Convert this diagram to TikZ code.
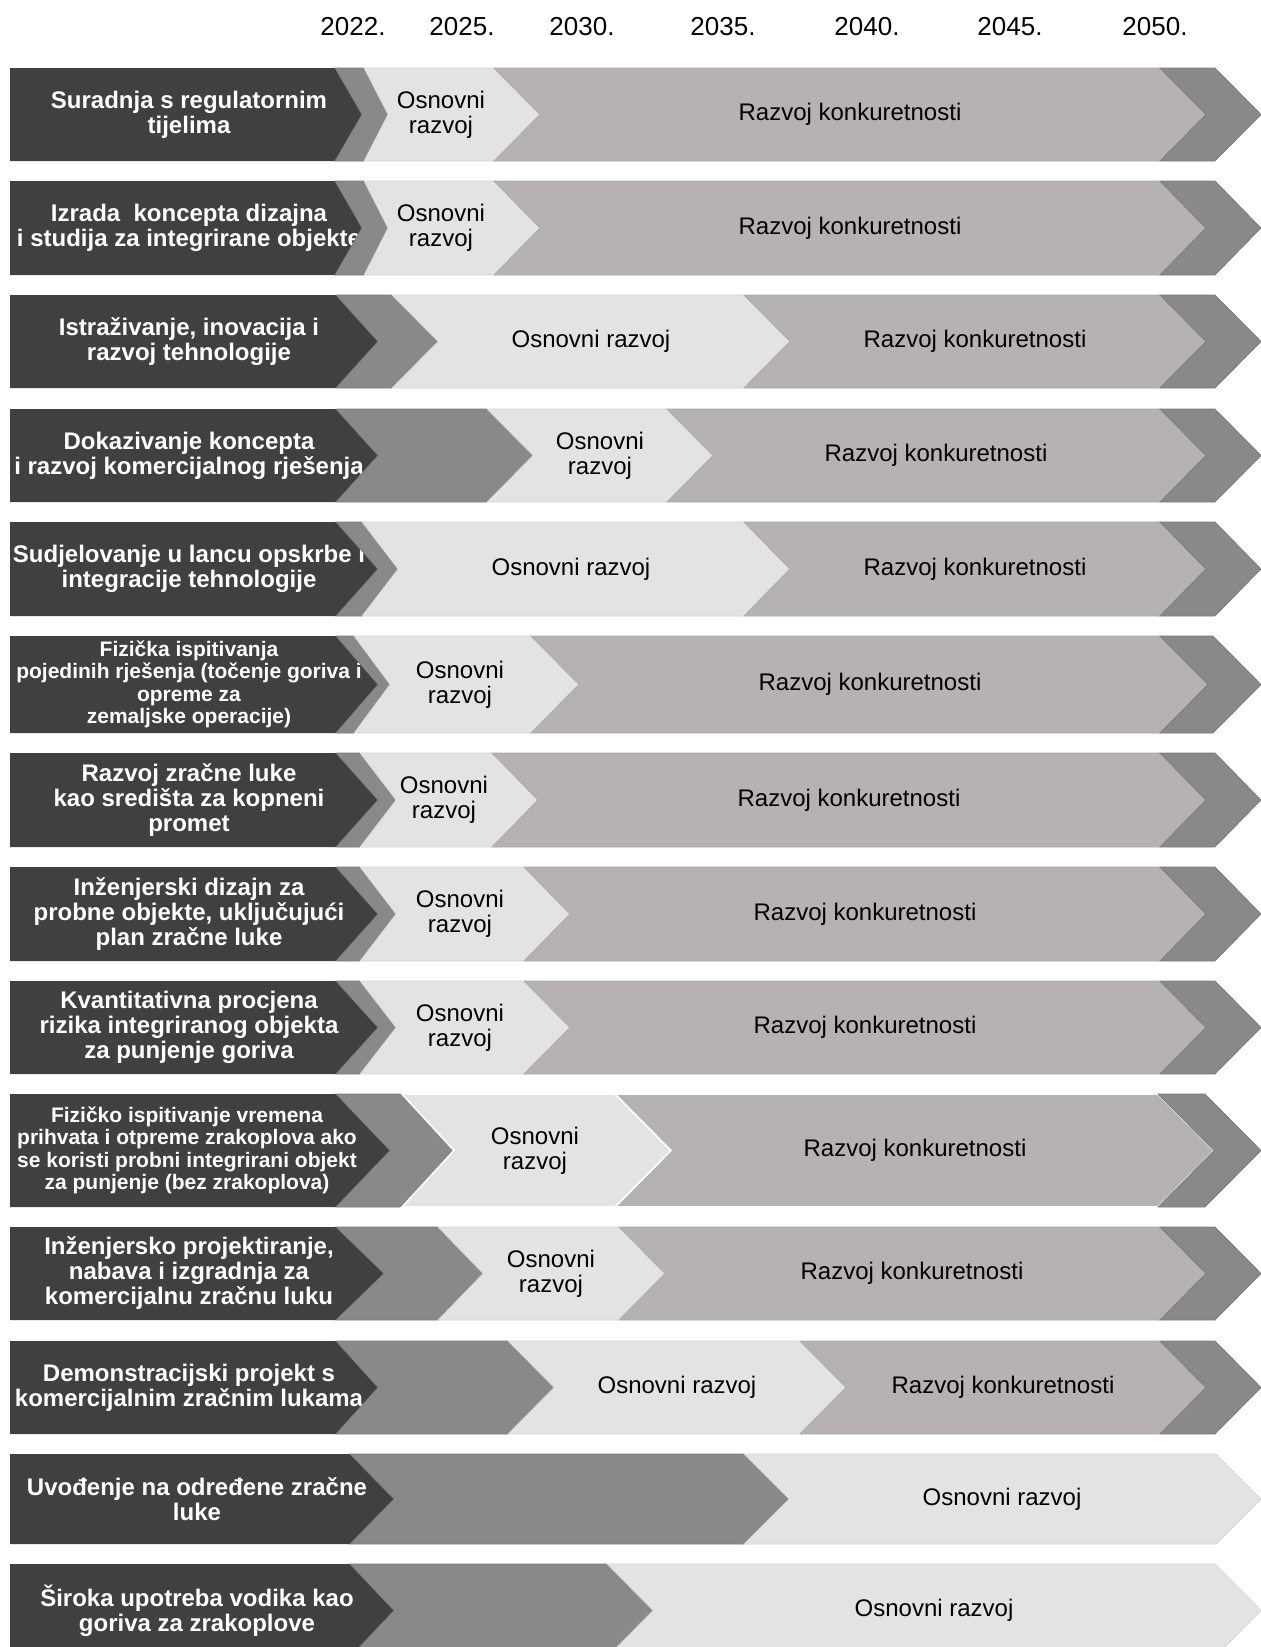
\documentclass[tikz,border=0pt]{standalone}
\usepackage{fontspec}
\setmainfont{Liberation Sans}
\definecolor{lblgray}{HTML}{404040}
\definecolor{medgray}{HTML}{898989}
\definecolor{osngray}{HTML}{E3E3E3}
\definecolor{razgray}{HTML}{B5B2B1}
\newcommand{\rowy}[2]{\def\yt{#1}\def\yb{#2}\pgfmathsetmacro{\ym}{(#1+#2)/2}}
\newcommand{\lab}[2]{\fill[lblgray] (10,\yt) -- (#1,\yt) -- ({#1+#2},\ym) -- (#1,\yb) -- (10,\yb) -- cycle;}
\newcommand{\seg}[5]{\filldraw[#1] (#2,\yt) -- (#3,\yt) -- ({#3+#5},\ym) -- (#3,\yb) -- (#2,\yb) -- ({#2+#4},\ym) -- cycle;}
\begin{document}
\begin{tikzpicture}[x=0.75pt,y=-0.75pt,
    medseg/.style={fill=medgray,draw=medgray!88!black,line width=0.5pt},
    osnseg/.style={fill=osngray,draw=osngray!94!black,line width=0.5pt},
    razseg/.style={fill=razgray,draw=razgray!94!black,line width=0.5pt},
    finseg/.style={fill=medgray,draw=medgray!88!black,line width=0.5pt},
    wline/.style={draw=white,line width=1.2pt},
    lbltxt/.style={text=white,font=\bfseries\fontsize{18}{18.75}\selectfont,align=center},
    smalltxt/.style={text=white,font=\bfseries\fontsize{15.75}{16.8}\selectfont,align=center},
    segtxt/.style={font=\fontsize{18}{18.75}\selectfont,align=center},
    yeartxt/.style={font=\fontsize{19.5}{20}\selectfont}]
  \clip (0,0) rectangle (1261,1647);
  \node (y2022) at (353,27) [yeartxt] {2022.};
  \node (y2025) at (462,27) [yeartxt] {2025.};
  \node (y2030) at (582,27) [yeartxt] {2030.};
  \node (y2035) at (723,27) [yeartxt] {2035.};
  \node (y2040) at (867,27) [yeartxt] {2040.};
  \node (y2045) at (1010,27) [yeartxt] {2045.};
  \node (y2050) at (1155,27) [yeartxt] {2050.};

  \rowy{68}{161}
  \lab{335}{27}
  \node (l1) at (189,\ym) [lbltxt] {Suradnja s regulatornim\\tijelima};
  \seg{medseg}{335}{364}{27}{24}
  \seg{osnseg}{364}{494}{24}{46}
  \seg{razseg}{494}{1160}{46}{46}
  \seg{finseg}{1160}{1215}{46}{46}
  \node (o1) at (441,\ym) [segtxt] {Osnovni\\razvoj};
  \node (r1) at (850,\ym) [segtxt] {Razvoj konkuretnosti};

  \rowy{181}{275}
  \lab{335}{27}
  \node (l2) at (189,\ym) [lbltxt] {Izrada\ \ koncepta dizajna\\i studija za integrirane objekte};
  \seg{medseg}{335}{364}{27}{24}
  \seg{osnseg}{364}{494}{24}{46}
  \seg{razseg}{494}{1160}{46}{46}
  \seg{finseg}{1160}{1215}{46}{46}
  \node (o2) at (441,\ym) [segtxt] {Osnovni\\razvoj};
  \node (r2) at (850,\ym) [segtxt] {Razvoj konkuretnosti};

  \rowy{295}{388}
  \lab{336}{42}
  \node (l3) at (189,\ym) [lbltxt] {Istraživanje, inovacija i\\razvoj tehnologije};
  \seg{medseg}{336}{392}{42}{46}
  \seg{osnseg}{392}{744}{46}{46}
  \seg{razseg}{744}{1160}{46}{46}
  \seg{finseg}{1160}{1215}{46}{46}
  \node (o3) at (591,\ym) [segtxt] {Osnovni razvoj};
  \node (r3) at (975,\ym) [segtxt] {Razvoj konkuretnosti};

  \rowy{409}{502}
  \lab{336}{42}
  \node (l4) at (189,\ym) [lbltxt] {Dokazivanje koncepta\\i razvoj komercijalnog rješenja};
  \seg{medseg}{336}{487}{42}{46}
  \seg{osnseg}{487}{667}{46}{46}
  \seg{razseg}{667}{1160}{46}{46}
  \seg{finseg}{1160}{1215}{46}{46}
  \node (o4) at (600,\ym) [segtxt] {Osnovni\\razvoj};
  \node (r4) at (936,\ym) [segtxt] {Razvoj konkuretnosti};

  \rowy{522}{616}
  \lab{336}{42}
  \node (l5) at (189,\ym) [lbltxt] {Sudjelovanje u lancu opskrbe i\\integracije tehnologije};
  \seg{medseg}{336}{362}{42}{36}
  \seg{osnseg}{362}{744}{36}{46}
  \seg{razseg}{744}{1160}{46}{46}
  \seg{finseg}{1160}{1215}{46}{46}
  \node (o5) at (571,\ym) [segtxt] {Osnovni razvoj};
  \node (r5) at (975,\ym) [segtxt] {Razvoj konkuretnosti};

  \rowy{636}{733}
  \lab{336}{42}
  \node (l6) at (189,\ym) [smalltxt] {Fizička ispitivanja\\pojedinih rješenja (točenje goriva i\\opreme za\\zemaljske operacije)};
  \seg{medseg}{336}{354}{42}{36}
  \seg{osnseg}{354}{531}{36}{48}
  \seg{razseg}{531}{1160}{48}{48}
  \seg{finseg}{1160}{1213}{48}{48}
  \node (o6) at (460,\ym) [segtxt] {Osnovni\\razvoj};
  \node (r6) at (870,\ym) [segtxt] {Razvoj konkuretnosti};

  \rowy{753}{847}
  \lab{336}{42}
  \node (l7) at (189,\ym) [lbltxt] {Razvoj zračne luke\\kao središta za kopneni\\promet};
  \seg{medseg}{336}{360}{42}{36}
  \seg{osnseg}{360}{492}{36}{46}
  \seg{razseg}{492}{1160}{46}{46}
  \seg{finseg}{1160}{1215}{46}{46}
  \node (o7) at (444,\ym) [segtxt] {Osnovni\\razvoj};
  \node (r7) at (849,\ym) [segtxt] {Razvoj konkuretnosti};

  \rowy{867}{961}
  \lab{336}{42}
  \node (l8) at (189,\ym) [lbltxt] {Inženjerski dizajn za\\probne objekte, uključujući\\plan zračne luke};
  \seg{medseg}{336}{360}{42}{36}
  \seg{osnseg}{360}{524}{36}{46}
  \seg{razseg}{524}{1160}{46}{46}
  \seg{finseg}{1160}{1215}{46}{46}
  \node (o8) at (460,\ym) [segtxt] {Osnovni\\razvoj};
  \node (r8) at (865,\ym) [segtxt] {Razvoj konkuretnosti};

  \rowy{981}{1074}
  \lab{336}{42}
  \node (l9) at (189,\ym) [lbltxt] {Kvantitativna procjena\\rizika integriranog objekta\\za punjenje goriva};
  \seg{medseg}{336}{360}{42}{36}
  \seg{osnseg}{360}{524}{36}{46}
  \seg{razseg}{524}{1160}{46}{46}
  \seg{finseg}{1160}{1215}{46}{46}
  \node (o9) at (460,\ym) [segtxt] {Osnovni\\razvoj};
  \node (r9) at (865,\ym) [segtxt] {Razvoj konkuretnosti};

  \rowy{1094}{1207}
  \lab{336}{54}
  \node (l10) at (187,\ym) [smalltxt] {Fizičko ispitivanje vremena\\prihvata i otpreme zrakoplova ako\\se koristi probni integrirani objekt\\za punjenje (bez zrakoplova)};
  \seg{medseg}{336}{402}{54}{52}
  \seg{osnseg,wline}{402}{615}{52}{56}
  \seg{razseg,wline}{615}{1158}{56}{56}
  \seg{finseg}{1158}{1205}{56}{56}
  \node (o10) at (535,\ym) [segtxt] {Osnovni\\razvoj};
  \node (r10) at (915,\ym) [segtxt] {Razvoj konkuretnosti};

  \rowy{1227}{1320}
  \lab{336}{48}
  \node (l11) at (189,\ym) [lbltxt] {Inženjersko projektiranje,\\nabava i izgradnja za\\komercijalnu zračnu luku};
  \seg{medseg}{336}{438}{48}{45}
  \seg{osnseg}{438}{619}{45}{46}
  \seg{razseg}{619}{1160}{46}{46}
  \seg{finseg}{1160}{1215}{46}{46}
  \node (o11) at (551,\ym) [segtxt] {Osnovni\\razvoj};
  \node (r11) at (912,\ym) [segtxt] {Razvoj konkuretnosti};

  \rowy{1341}{1434}
  \lab{336}{42}
  \node (l12) at (189,\ym) [lbltxt] {Demonstracijski projekt s\\komercijalnim zračnim lukama};
  \seg{medseg}{336}{508}{42}{46}
  \seg{osnseg}{508}{800}{46}{46}
  \seg{razseg}{800}{1160}{46}{46}
  \seg{finseg}{1160}{1215}{46}{46}
  \node (o12) at (677,\ym) [segtxt] {Osnovni razvoj};
  \node (r12) at (1003,\ym) [segtxt] {Razvoj konkuretnosti};

  \rowy{1454}{1544}
  \lab{350}{44}
  \node (l13) at (197,\ym) [lbltxt] {Uvođenje na određene zračne\\luke};
  \seg{medseg}{350}{744}{44}{45}
  \seg{osnseg}{744}{1216}{45}{45}
  \node (o13) at (1002,\ym) [segtxt] {Osnovni razvoj};

  \rowy{1564}{1657}
  \lab{350}{44}
  \node (l14) at (197,\ym) [lbltxt] {Široka upotreba vodika kao\\goriva za zrakoplove};
  \seg{medseg}{350}{607}{44}{46}
  \seg{osnseg}{607}{1215}{46}{46}
  \node (o14) at (934,\ym) [segtxt] {Osnovni razvoj};
\end{tikzpicture}
\end{document}
